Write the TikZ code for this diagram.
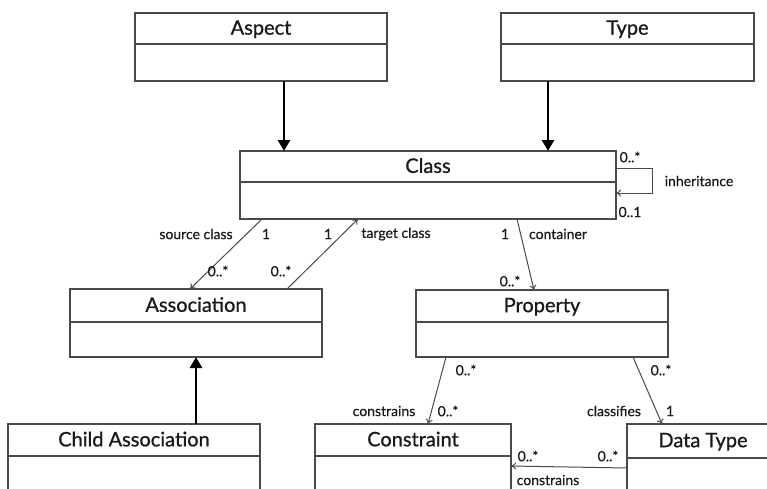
\documentclass[tikz,border=0pt]{standalone}
\usepackage{fontspec}
\setmainfont{Lato}
\newfontfamily\umlfont{Lato}[FakeBold=0.9]
\newfontfamily\multfont{Lato}[FakeBold=0.5]
\usetikzlibrary{arrows.meta, positioning}
\definecolor{umlline}{HTML}{4A4A4A}
\definecolor{umltext}{HTML}{1A1A1A}

\begin{document}
\begin{tikzpicture}[
  x=1pt, y=-1pt,
  every node/.style={text=umltext},
  ctitle/.style={draw=umlline, line width=1.2pt, anchor=north west, outer sep=0pt, inner sep=0pt, text depth=2pt, font=\umlfont\fontsize{20}{22}\selectfont},
  cbody/.style={draw=umlline, line width=1.2pt, outer sep=0pt, inner sep=0pt},
  assoc/.style={umlline, line width=1pt, -{To[length=5pt, width=7pt]}},
  extends/.style={black, line width=2.6pt, -{Triangle[length=11pt, width=12pt]}},
  mult/.style={font=\multfont\fontsize{14}{16}\selectfont, inner sep=1pt},
]

% Frame
\clip (0,0) rectangle (767,488);
\fill[white] (0,0) rectangle (767,488);

% Classes
\node[ctitle, minimum width=252, minimum height=31] (aspect) at (135,13) {Aspect};
\node[cbody, minimum width=252, minimum height=37, below=0pt of aspect] (aspectbody) {};

\node[ctitle, minimum width=253, minimum height=31] (type) at (501,13) {Type};
\node[cbody, minimum width=253, minimum height=37, below=0pt of type] (typebody) {};

\node[ctitle, minimum width=376, minimum height=31] (class) at (240,151) {Class};
\node[cbody, minimum width=376, minimum height=37, below=0pt of class] (classbody) {};

\node[ctitle, minimum width=252, minimum height=33] (association) at (70,289) {Association};
\node[cbody, minimum width=252, minimum height=35, below=0pt of association] (associationbody) {};

\node[ctitle, minimum width=252, minimum height=32] (property) at (416,290) {Property};
\node[cbody, minimum width=252, minimum height=35, below=0pt of property] (propertybody) {};

\node[ctitle, minimum width=252, minimum height=32] (child) at (8,424) {Child Association};
\node[cbody, minimum width=252, minimum height=40, below=0pt of child] (childbody) {};

\node[ctitle, minimum width=196, minimum height=32] (constraint) at (315,424) {Constraint};
\node[cbody, minimum width=196, minimum height=40, below=0pt of constraint] (constraintbody) {};

\node[ctitle, minimum width=152, minimum height=34] (datatype) at (627,424) {Data Type};
\node[cbody, minimum width=152, minimum height=40, below=0pt of datatype] (datatypebody) {};

% Generalisations
\draw[extends] ([xshift=149pt]aspectbody.south west) -- ([xshift=44pt]class.north west);
\draw[extends] ([xshift=47pt]typebody.south west) -- ([xshift=308pt]class.north west);
\draw[extends] ([xshift=188pt]child.north west) -- ([xshift=126pt]associationbody.south west);

% Inheritance loop
\draw[assoc] ([yshift=-17pt]class.north east) -- ++(36,0) |- ([yshift=-11pt]classbody.north east);
\node[mult] (inhsrc) at (630,157) {0..*};
\node[mult] (inhlbl) at (699,181) {inheritance};
\node[mult] (inhdst) at (630,212) {0..1};

% Source class
\draw[assoc] ([xshift=22pt]classbody.south west) -- ([xshift=120pt]association.north west);
\node[mult] (srclbl) at (196,234) {source class};
\node[mult] (srcone) at (266,234) {1};
\node[mult] (srcmany) at (218,271) {0..*};

% Target class
\draw[assoc] ([xshift=217pt]association.north west) -- ([xshift=118pt]classbody.south west);
\node[mult] (tgtone) at (328,234) {1};
\node[mult] (tgtlbl) at (396,234) {target class};
\node[mult] (tgtmany) at (281,271) {0..*};

% Container
\draw[assoc] ([xshift=277pt]classbody.south west) -- ([xshift=118pt]property.north west);
\node[mult] (conone) at (505,234) {1};
\node[mult] (conlbl) at (558,234) {container};
\node[mult] (conmany) at (510,281) {0..*};

% Property constrains
\draw[assoc] ([xshift=30pt]propertybody.south west) -- ([xshift=113pt]constraint.north west);
\node[mult] (pcmany) at (466,370) {0..*};
\node[mult] (pclbl) at (384,411) {constrains};
\node[mult] (pcmany2) at (448,411) {0..*};

% Classifies
\draw[assoc] ([xshift=217pt]propertybody.south west) -- ([xshift=35pt]datatype.north west);
\node[mult] (clmany) at (661,370) {0..*};
\node[mult] (cllbl) at (614,411) {classifies};
\node[mult] (clone) at (670,411) {1};

% Data type constrains
\draw[assoc] ([yshift=-10pt]datatypebody.north west) -- ([yshift=-10pt]constraintbody.north east);
\node[mult] (dcmany) at (528,456) {0..*};
\node[mult] (dcmany2) at (608,456) {0..*};
\node[mult] (dclbl) at (548,480) {constrains};

\end{tikzpicture}
\end{document}
